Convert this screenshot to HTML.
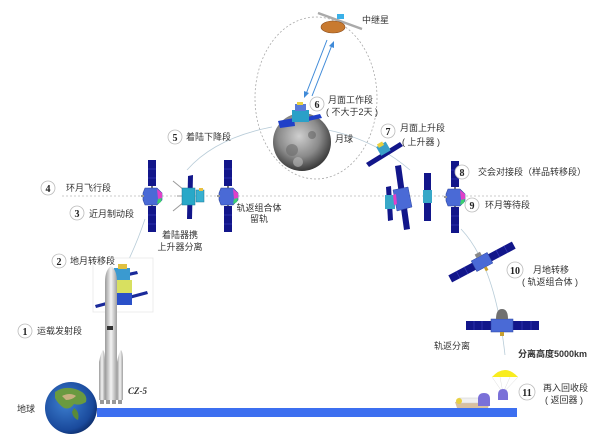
<!DOCTYPE html>
<html><head><meta charset="utf-8"><style>
html,body{margin:0;padding:0;background:#fff;}
svg{display:block;}
text{font-family:"Liberation Sans","Noto Sans CJK SC",sans-serif;font-size:9px;fill:#333;}
.n{font-family:"Liberation Serif",serif;font-weight:bold;font-size:10px;fill:#222;text-anchor:middle;}
.c{fill:#fff;stroke:#bbb;stroke-width:0.8;}
</style></head><body>
<svg width="600" height="442" viewBox="0 0 600 442" xmlns="http://www.w3.org/2000/svg">
<defs>
<radialGradient id="moon" cx="45%" cy="40%" r="60%"><stop offset="0" stop-color="#cfcfcf"/><stop offset="0.6" stop-color="#8a8a8a"/><stop offset="1" stop-color="#3a3a3a"/></radialGradient>
<radialGradient id="earth" cx="40%" cy="40%" r="65%"><stop offset="0" stop-color="#3d7fd0"/><stop offset="0.8" stop-color="#1a4a9c"/><stop offset="1" stop-color="#0d2d6a"/></radialGradient>
<linearGradient id="rk" x1="0" x2="1"><stop offset="0" stop-color="#9a9a9a"/><stop offset="0.5" stop-color="#f4f4f4"/><stop offset="1" stop-color="#a0a0a0"/></linearGradient>
<g id="orb">
<rect x="-4" y="-36" width="8" height="26" fill="#12168a"/>
<line x1="-4" y1="-27" x2="4" y2="-27" stroke="#3a3ec0" stroke-width="0.6"/><line x1="-4" y1="-18" x2="4" y2="-18" stroke="#3a3ec0" stroke-width="0.6"/>
<rect x="-4" y="10" width="8" height="26" fill="#12168a"/>
<line x1="-4" y1="19" x2="4" y2="19" stroke="#3a3ec0" stroke-width="0.6"/><line x1="-4" y1="28" x2="4" y2="28" stroke="#3a3ec0" stroke-width="0.6"/>
<rect x="-1" y="-10" width="2" height="20" fill="#777"/>
<path d="M-7,-8 L5,-8 L10,-3 L10,4 L5,9 L-7,9 L-9,4 L-9,-3 Z" fill="#4a6ad6" stroke="#2c45a0" stroke-width="0.6"/>
<path d="M5,-7 L10,-3 L10,2 L6,3 Z" fill="#e040c8"/>
<path d="M6,3 L10,2 L9,6 L5,8 Z" fill="#3cd070"/>
<rect x="-11" y="-1" width="3" height="2" fill="#999"/>
</g>
</defs>

<!-- dashed ellipse -->
<ellipse cx="316" cy="98" rx="61" ry="81" fill="none" stroke="#aaa" stroke-width="0.8" stroke-dasharray="2,2"/>
<!-- horizontal dashed orbit -->
<line x1="62" y1="196" x2="528" y2="196" stroke="#bbb" stroke-width="0.7" stroke-dasharray="2,2"/>

<!-- trajectory lines -->
<path d="M129,259 Q138,240 145,219" fill="none" stroke="#b8ccd8" stroke-width="0.8"/>
<path d="M187,170 Q215,138 272,127" fill="none" stroke="#b8ccd8" stroke-width="0.8"/>
<path d="M328,130 Q375,140 410,170" fill="none" stroke="#b8ccd8" stroke-width="0.8"/>
<path d="M461,229 Q495,265 505,355" fill="none" stroke="#b8ccd8" stroke-width="0.8"/>

<!-- relay satellite -->
<line x1="318" y1="13" x2="362" y2="29" stroke="#aaa" stroke-width="2.5"/>
<ellipse cx="333" cy="27" rx="12" ry="6" fill="#c87a30" stroke="#8a4a18" stroke-width="0.6"/>
<rect x="337" y="14" width="7" height="5" fill="#3ab0e8"/>
<text x="362" y="23">中继星</text>

<!-- communication arrows -->
<line x1="327" y1="40" x2="306" y2="94" stroke="#3f8ad8" stroke-width="1"/>
<path d="M304,98 L304,91 L309,93 Z" fill="#3f8ad8"/>
<line x1="312" y1="96" x2="332" y2="45" stroke="#3f8ad8" stroke-width="1"/>
<path d="M334,41 L334,48 L329,46 Z" fill="#3f8ad8"/>

<!-- moon -->
<circle cx="302" cy="142" r="29" fill="url(#moon)"/>
<circle cx="292" cy="150" r="6" fill="#6a6a6a" opacity="0.6"/>
<circle cx="312" cy="135" r="4" fill="#5a5a5a" opacity="0.5"/>
<circle cx="298" cy="162" r="5" fill="#bdbdbd" opacity="0.6"/>
<!-- lander on moon -->
<path d="M278,121 L294,118 L295,126 L280,128 Z" fill="#2040c8"/>
<path d="M307,117 L320,114 L322,118 L308,121 Z" fill="#2040c8"/>
<rect x="292" y="110" width="17" height="12" fill="#2aa0c8"/>
<rect x="295" y="104" width="11" height="7" fill="#5a7ad8"/>
<rect x="297" y="102" width="6" height="3" fill="#e8d040"/>
<text x="335" y="142">月球</text>

<!-- circle 6 -->
<circle class="c" cx="317" cy="104" r="7"/><text class="n" x="317" y="108">6</text>
<text x="328" y="103">月面工作段</text>
<text x="326" y="115">( 不大于2天 )</text>

<!-- circle 5 -->
<circle class="c" cx="175" cy="137" r="7"/><text class="n" x="175" y="141">5</text>
<text x="186" y="140">着陆下降段</text>

<!-- circle 4 -->
<circle class="c" cx="48" cy="188" r="7"/><text class="n" x="48" y="192">4</text>
<text x="66" y="191">环月飞行段</text>

<!-- circle 3 -->
<circle class="c" cx="77" cy="213" r="7"/><text class="n" x="77" y="217">3</text>
<text x="89" y="217">近月制动段</text>

<!-- orbiters on lunar orbit -->
<use href="#orb" transform="translate(152,196)"/>
<use href="#orb" transform="translate(228,196)"/>

<!-- lander + ascender separating -->
<g>
<line x1="173" y1="181" x2="184" y2="190" stroke="#999" stroke-width="1"/>
<line x1="173" y1="211" x2="184" y2="202" stroke="#999" stroke-width="1"/>
<line x1="177" y1="196" x2="184" y2="196" stroke="#999" stroke-width="1"/>
<path d="M188,176 L193,175 L192,219 L187,219 Z" fill="#12168a"/>
<rect x="182" y="188" width="13" height="17" fill="#28a8c8" stroke="#1a7898" stroke-width="0.5"/>
<rect x="196" y="190" width="8" height="12" fill="#38b0d0" stroke="#1a7898" stroke-width="0.5"/>
<rect x="199" y="188" width="4" height="3" fill="#e8c040"/>
</g>
<text x="180" y="238" text-anchor="middle">着陆器携</text>
<text x="180" y="250" text-anchor="middle">上升器分离</text>
<text x="259" y="211" text-anchor="middle">轨返组合体</text>
<text x="259" y="222" text-anchor="middle">留轨</text>

<!-- ascender (7) -->
<path d="M366,163 L400,142 L403,146 L369,167 Z" fill="#12168a"/>
<rect x="378" y="144" width="11" height="10" fill="#3aa0c8" transform="rotate(-30 383 149)"/>
<rect x="380" y="142" width="6" height="4" fill="#e8d040" transform="rotate(-30 383 149)"/>
<circle class="c" cx="388" cy="131" r="7"/><text class="n" x="388" y="135">7</text>
<text x="400" y="131">月面上升段</text>
<text x="402" y="145">( 上升器 )</text>

<!-- docking group -->
<path d="M386,187 L391,186 L393,220 L388,221 Z" fill="#12168a"/>
<rect x="385" y="195" width="10" height="14" fill="#38a8c8"/>
<path d="M395,166 L401,165 L410,229 L404,230 Z" fill="#12168a"/>
<path d="M393,190 L408,187 L412,207 L397,211 Z" fill="#4a6ad6" stroke="#2c45a0" stroke-width="0.5"/>
<path d="M393,195 L396,194 L397,204 L394,205 Z" fill="#e040c8"/>
<rect x="424" y="173" width="7" height="48" fill="#12168a"/>
<rect x="423" y="190" width="9" height="13" fill="#38a8c8"/>
<use href="#orb" transform="translate(455,197)"/>

<circle class="c" cx="462" cy="172" r="7"/><text class="n" x="462" y="176">8</text>
<text x="478" y="175">交会对接段（样品转移段）</text>
<circle class="c" cx="472" cy="205" r="7"/><text class="n" x="472" y="209">9</text>
<text x="485" y="208">环月等待段</text>

<!-- trans-earth craft (10) -->
<g transform="translate(482,262) rotate(-28)">
<rect x="-36" y="-4" width="27" height="8" fill="#12168a"/>
<rect x="9" y="-4" width="27" height="8" fill="#12168a"/>
<line x1="-27" y1="-4" x2="-27" y2="4" stroke="#3a3ec0" stroke-width="0.6"/><line x1="-18" y1="-4" x2="-18" y2="4" stroke="#3a3ec0" stroke-width="0.6"/>
<line x1="18" y1="-4" x2="18" y2="4" stroke="#3a3ec0" stroke-width="0.6"/><line x1="27" y1="-4" x2="27" y2="4" stroke="#3a3ec0" stroke-width="0.6"/>
<rect x="-9" y="-6" width="18" height="12" fill="#4a6ad6" stroke="#2c45a0" stroke-width="0.5"/>
<rect x="-3" y="-10" width="6" height="4" fill="#888"/>
<rect x="-1" y="6" width="3" height="4" fill="#c8a030"/>
</g>
<circle class="c" cx="515" cy="270" r="8"/><text class="n" x="515" y="274">10</text>
<text x="533" y="273">月地转移</text>
<text x="522" y="285">( 轨返组合体 )</text>

<!-- separation craft -->
<rect x="466" y="321" width="25" height="9" fill="#12168a"/>
<rect x="513" y="321" width="26" height="9" fill="#12168a"/>
<line x1="474" y1="321" x2="474" y2="330" stroke="#3a3ec0" stroke-width="0.6"/><line x1="482" y1="321" x2="482" y2="330" stroke="#3a3ec0" stroke-width="0.6"/>
<line x1="522" y1="321" x2="522" y2="330" stroke="#3a3ec0" stroke-width="0.6"/><line x1="531" y1="321" x2="531" y2="330" stroke="#3a3ec0" stroke-width="0.6"/>
<rect x="491" y="319" width="22" height="13" fill="#4a6ad6" stroke="#2c45a0" stroke-width="0.5"/>
<path d="M496,319 Q496,309 502,309 Q508,309 508,319 Z" fill="#707070"/>
<rect x="500" y="332" width="4" height="4" fill="#c8a030"/>
<text x="434" y="349">轨返分离</text>
<text x="518" y="357" style="font-weight:bold">分离高度5000km</text>

<!-- parachute -->
<path d="M492,377 Q505,363 518,377 Z" fill="#f8ec20"/>
<line x1="492" y1="377" x2="503" y2="393" stroke="#ddd" stroke-width="0.5"/>
<line x1="518" y1="377" x2="503" y2="393" stroke="#ddd" stroke-width="0.5"/>
<line x1="500" y1="377" x2="503" y2="393" stroke="#ddd" stroke-width="0.5"/>
<line x1="510" y1="377" x2="503" y2="393" stroke="#ddd" stroke-width="0.5"/>
<path d="M498,400 L498,395 Q498,389 503,389 Q508,389 508,395 L508,400 Z" fill="#7a70d8"/>
<!-- landed capsule -->
<path d="M455,402 Q470,399 490,402 L488,408 L457,408 Z" fill="#d8c0a0"/>
<rect x="459" y="398" width="20" height="5" fill="#f0f0f0" stroke="#ccc" stroke-width="0.5"/>
<circle cx="459" cy="401" r="3" fill="#e8d040"/>
<path d="M478,406 L478,399 Q478,393 484,393 Q490,393 490,399 L490,406 Z" fill="#7a70d8"/>
<circle class="c" cx="527" cy="392" r="8"/><text class="n" x="527" y="396">11</text>
<text x="543" y="391">再入回收段</text>
<text x="545" y="403">( 返回器 )</text>

<!-- blue ground bar -->
<rect x="97" y="408" width="420" height="9" fill="#3c6ff0"/>

<!-- stack box (2) -->
<rect x="93" y="258" width="60" height="54" fill="#fff" stroke="#e8e8e8" stroke-width="0.8"/>
<path d="M109,277 L137,271 L138,274 L110,280 Z" fill="#1a2a9a"/>
<path d="M95,305 L147,291 L148,294 L96,308 Z" fill="#1a2a9a"/>
<rect x="114" y="268" width="16" height="12" fill="#3a9ad0"/>
<rect x="118" y="264" width="9" height="5" fill="#e0c040"/>
<rect x="112" y="280" width="20" height="13" fill="#d8e060"/>
<rect x="112" y="293" width="20" height="12" fill="#2a50c8"/>
<circle class="c" cx="59" cy="261" r="7"/><text class="n" x="59" y="265">2</text>
<text x="70" y="264">地月转移段</text>

<!-- rocket -->
<path d="M105,282 Q105,270 111,266 Q117,270 117,282 Z" fill="url(#rk)"/>
<rect x="105" y="282" width="12" height="118" fill="url(#rk)"/>
<rect x="107" y="326" width="6" height="4" fill="#333"/>
<path d="M99,400 L99,362 Q101,352 103,350 Q105,352 105,362 L105,400 Z" fill="url(#rk)"/>
<path d="M117,400 L117,362 Q119,352 121,350 Q123,352 123,362 L123,400 Z" fill="url(#rk)"/>
<rect x="100" y="400" width="4" height="4" fill="#999"/>
<rect x="106" y="400" width="4" height="4" fill="#999"/>
<rect x="112" y="400" width="4" height="4" fill="#999"/>
<rect x="118" y="400" width="4" height="4" fill="#999"/>
<text x="128" y="394" style="font-family:'Liberation Serif',serif;font-weight:bold;font-style:italic;font-size:9px">CZ-5</text>

<circle class="c" cx="25" cy="331" r="7"/><text class="n" x="25" y="335">1</text>
<text x="37" y="334">运载发射段</text>

<!-- earth -->
<circle cx="71" cy="408" r="26" fill="url(#earth)"/>
<path d="M55,392 Q65,385 78,390 Q88,394 86,402 Q80,406 74,404 Q70,410 64,408 Q58,404 55,398 Z" fill="#6a9a40"/>
<path d="M62,396 Q70,392 76,396 Q72,400 66,400 Z" fill="#c8b080"/>
<path d="M74,408 Q80,412 78,420 Q73,418 72,412 Z" fill="#5a8a38"/>
<text x="17" y="412">地球</text>
</svg>
</body></html>
